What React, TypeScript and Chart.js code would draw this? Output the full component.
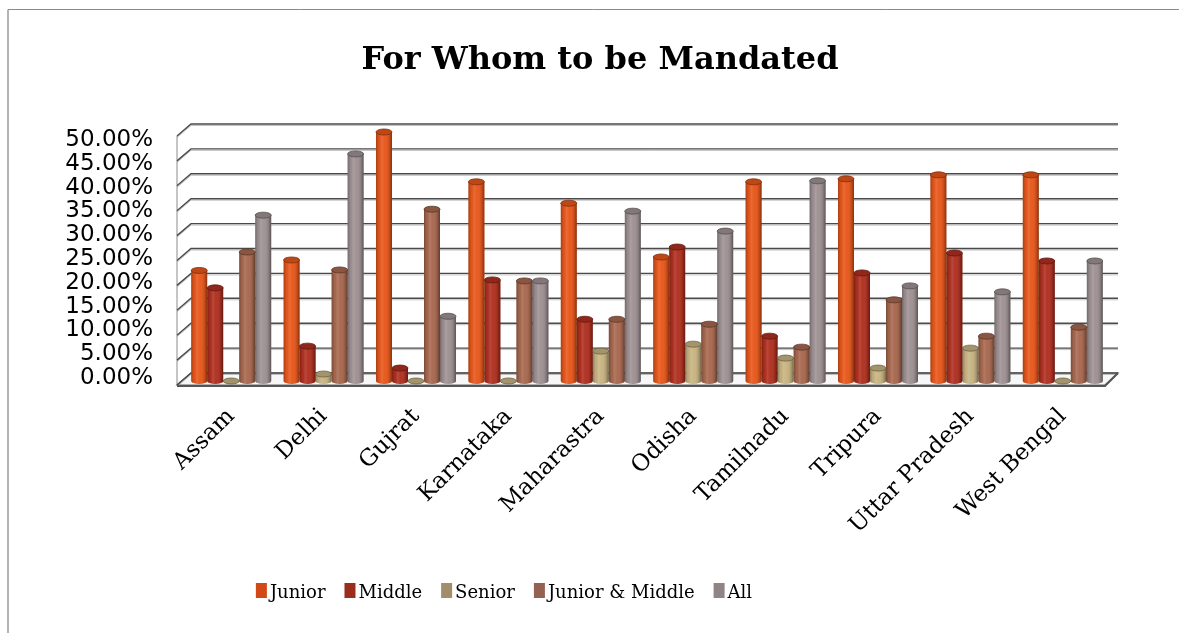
import { useEffect, useRef } from "react";
import { Chart, registerables } from "chart.js";

Chart.register(...registerables);

// ---- data -------------------------------------------------------------
const STATES = [
  "Assam",
  "Delhi",
  "Gujrat",
  "Karnataka",
  "Maharastra",
  "Odisha",
  "Tamilnadu",
  "Tripura",
  "Uttar Pradesh",
  "West Bengal",
];
const JUNIOR = [22.2, 24.3, 50, 40, 35.7, 24.9, 40, 40.6, 41.4, 41.4];
const MIDDLE = [18.7, 7, 2.6, 20.3, 12.4, 26.9, 9, 21.7, 25.7, 24.1];
const SENIOR = [0, 1.4, 0, 0, 6, 7.4, 4.6, 2.6, 6.6, 0];
const JUNIOR_MIDDLE = [25.9, 22.3, 34.5, 20.1, 12.4, 11.4, 6.8, 16.3, 9, 10.8];
const ALL = [33.3, 45.6, 13, 20.1, 34.1, 30.1, 40.2, 19.1, 17.9, 24.1];

const SERIES_NAMES = ["Junior", "Middle", "Senior", "Junior & Middle", "All"];
const SERIES_VALUES = [JUNIOR, MIDDLE, SENIOR, JUNIOR_MIDDLE, ALL];
const LEGEND_COLORS = ["#D34817", "#9B2D1F", "#A28E6A", "#956251", "#918485"];
const BAR_COLORS = ["#E8571B", "#B03020", "#C8B482", "#A8684F", "#9E9194"];

const Y_TICKS = [0, 5, 10, 15, 20, 25, 30, 35, 40, 45, 50];
const TITLE = "For Whom to be Mandated";

// ---- helpers ----------------------------------------------------------
function shade(hex: string, f: number): string {
  const n = parseInt(hex.slice(1), 16);
  const c = [(n >> 16) & 255, (n >> 8) & 255, n & 255].map((v) =>
    Math.max(0, Math.min(255, Math.round(f >= 1 ? v + (255 - v) * (f - 1) : v * f)))
  );
  return `rgb(${c[0]},${c[1]},${c[2]})`;
}

function sideGradient(ctx: CanvasRenderingContext2D, x: number, w: number) {
  const g = ctx.createLinearGradient(x - w / 2, 0, x + w / 2, 0);
  g.addColorStop(0, "rgba(0,0,0,0.28)");
  g.addColorStop(0.18, "rgba(0,0,0,0.04)");
  g.addColorStop(0.35, "rgba(255,255,255,0.12)");
  g.addColorStop(0.55, "rgba(255,255,255,0.02)");
  g.addColorStop(0.85, "rgba(0,0,0,0.16)");
  g.addColorStop(1, "rgba(0,0,0,0.42)");
  return g;
}

// ---- 3D frame, cylinders, title and legend ----------------------------
const framePlugin = {
  id: "frame3d",
  beforeDraw(chart: any) {
    const ctx = chart.ctx as CanvasRenderingContext2D;
    ctx.save();
    ctx.fillStyle = "#ffffff";
    ctx.fillRect(0, 0, chart.width, chart.height);
    ctx.strokeStyle = "#b4b4b4";
    ctx.lineWidth = 2;
    ctx.beginPath();
    ctx.moveTo(8, chart.height);
    ctx.lineTo(8, 9.5);
    ctx.stroke();
    ctx.strokeStyle = "#8a8a8a";
    ctx.lineWidth = 1;
    ctx.beginPath();
    ctx.moveTo(8, 9.5);
    ctx.lineTo(chart.width, 9.5);
    ctx.stroke();
    ctx.restore();
  },
  beforeDatasetsDraw(chart: any) {
    const ctx = chart.ctx as CanvasRenderingContext2D;
    const a = chart.chartArea;
    const y = chart.scales.y;
    const frontL = a.left - 8;
    const backL = a.left + 6;
    const frontR = a.right - 4;
    const backR = a.right + 9;
    const yb = (v: number) => y.getPixelForValue(v) - 8;
    const yf = (v: number) => y.getPixelForValue(v) + 4;
    ctx.save();
    // floor
    ctx.beginPath();
    ctx.moveTo(frontL, yf(0));
    ctx.lineTo(frontR, yf(0));
    ctx.lineTo(backR, yb(0));
    ctx.lineTo(backL, yb(0));
    ctx.closePath();
    ctx.fillStyle = "#f7f7f7";
    ctx.fill();
    ctx.strokeStyle = "#666";
    ctx.lineWidth = 1.2;
    ctx.stroke();
    // left wall front edge
    ctx.strokeStyle = "#8c8c8c";
    ctx.lineWidth = 1;
    ctx.beginPath();
    ctx.moveTo(frontL, yf(0));
    ctx.lineTo(frontL, yf(Y_TICKS[Y_TICKS.length - 1]));
    ctx.stroke();
    // gridlines on side and back walls
    Y_TICKS.forEach((v) => {
      ctx.strokeStyle = "rgba(150,150,150,0.6)";
      ctx.lineWidth = 1;
      ctx.beginPath();
      ctx.moveTo(frontL, yf(v) + 1.5);
      ctx.lineTo(backL, yb(v) + 1.5);
      ctx.lineTo(backR, yb(v) + 1.5);
      ctx.stroke();
      ctx.strokeStyle = "#4a4a4a";
      ctx.lineWidth = 1.4;
      ctx.beginPath();
      ctx.moveTo(frontL, yf(v));
      ctx.lineTo(backL, yb(v));
      ctx.lineTo(backR, yb(v));
      ctx.stroke();
    });
    // front floor edge
    ctx.strokeStyle = "#555";
    ctx.lineWidth = 2;
    ctx.beginPath();
    ctx.moveTo(frontL, yf(0) + 1);
    ctx.lineTo(frontR, yf(0) + 1);
    ctx.lineTo(backR, yb(0));
    ctx.stroke();
    ctx.restore();
  },
  afterDatasetsDraw(chart: any) {
    const ctx = chart.ctx as CanvasRenderingContext2D;
    ctx.save();
    chart.data.datasets.forEach((_ds: any, di: number) => {
      const meta = chart.getDatasetMeta(di);
      const base = BAR_COLORS[di];
      meta.data.forEach((bar: any) => {
        const { x, y, width, base: b } = bar.getProps(["x", "y", "width", "base"], true);
        const rx = width / 2;
        const ry = 3;
        // rounded bottom of the cylinder
        ctx.beginPath();
        ctx.ellipse(x, b, rx, ry, 0, 0, Math.PI);
        ctx.closePath();
        ctx.fillStyle = base;
        ctx.fill();
        // side shading
        ctx.fillStyle = sideGradient(ctx, x, width);
        ctx.fillRect(x - rx, y, width, b - y);
        ctx.beginPath();
        ctx.ellipse(x, b, rx, ry, 0, 0, Math.PI);
        ctx.closePath();
        ctx.fill();
        // top cap
        ctx.beginPath();
        ctx.ellipse(x, y, rx, ry, 0, 0, Math.PI * 2);
        ctx.fillStyle = shade(base, 0.82);
        ctx.fill();
        ctx.strokeStyle = shade(base, 0.55);
        ctx.lineWidth = 0.8;
        ctx.stroke();
      });
    });
    ctx.restore();
  },
  afterDraw(chart: any) {
    const ctx = chart.ctx as CanvasRenderingContext2D;
    ctx.save();
    // title
    ctx.fillStyle = "#000";
    ctx.font = 'bold 32px "DejaVu Serif"';
    ctx.textAlign = "center";
    ctx.textBaseline = "alphabetic";
    ctx.fillText(TITLE, 600, 69);
    // legend
    ctx.font = '18px "DejaVu Serif"';
    ctx.textAlign = "left";
    const boxW = 11;
    const boxH = 15;
    const gapText = 3;
    const gapItem = 19;
    const items = chart.data.datasets.map((ds: any, i: number) => ({
      label: ds.label as string,
      color: LEGEND_COLORS[i],
      w: boxW + gapText + ctx.measureText(ds.label).width,
    }));
    const total =
      items.reduce((s: number, it: any) => s + it.w, 0) + gapItem * (items.length - 1);
    let lx = 504 - total / 2;
    items.forEach((it: any) => {
      ctx.fillStyle = it.color;
      ctx.fillRect(lx, 583, boxW, boxH);
      ctx.fillStyle = "#000";
      ctx.fillText(it.label, lx + boxW + gapText, 598);
      lx += it.w + gapItem;
    });
    ctx.restore();
  },
};

export default function App() {
  const ref = useRef<HTMLCanvasElement>(null);

  useEffect(() => {
    const canvas = ref.current;
    if (!canvas) return;
    const chart = new Chart(canvas, {
      type: "bar",
      data: {
        labels: STATES,
        datasets: SERIES_NAMES.map((name, i) => ({
          label: name,
          data: SERIES_VALUES[i],
          backgroundColor: BAR_COLORS[i],
          borderWidth: 0,
          categoryPercentage: 0.866,
          barPercentage: 1,
          yAxisID: "y",
        })),
      },
      options: {
        responsive: false,
        animation: false,
        events: [],
        layout: { padding: { left: 0, right: 70, top: 132, bottom: 42 } },
        plugins: {
          legend: { display: false },
          title: { display: false },
          tooltip: { enabled: false },
        },
        scales: {
          x: {
            type: "category",
            grid: { display: false, drawTicks: false },
            border: { display: false },
            ticks: {
              font: { family: "DejaVu Serif", size: 23 },
              color: "#000",
              minRotation: 45,
              maxRotation: 45,
              autoSkip: false,
              padding: 22,
            },
            afterFit: (s: any) => {
              s.height = 210;
            },
          },
          y: {
            type: "linear",
            display: false,
            min: 0,
            max: 50,
            ticks: { stepSize: 5 },
          },
          yl: {
            type: "linear",
            position: "left",
            min: -0.63,
            max: 51.68,
            grid: { display: false, drawTicks: false },
            border: { display: false },
            afterBuildTicks: (s: any) => {
              s.ticks = Y_TICKS.map((v) => ({ value: v }));
            },
            ticks: {
              font: { family: "DejaVu Sans", size: 23, lineHeight: 1 },
              color: "#000",
              padding: 32,
              autoSkip: false,
              callback: (v: any) => Number(v).toFixed(2) + "%",
            },
            afterFit: (s: any) => {
              s.width = 185;
            },
          },
        },
      },
      plugins: [framePlugin],
    } as any);
    return () => chart.destroy();
  }, []);

  return (
    <canvas
      ref={ref}
      width={1179}
      height={633}
      style={{ position: "fixed", left: 0, top: 0, display: "block" }}
    />
  );
}
